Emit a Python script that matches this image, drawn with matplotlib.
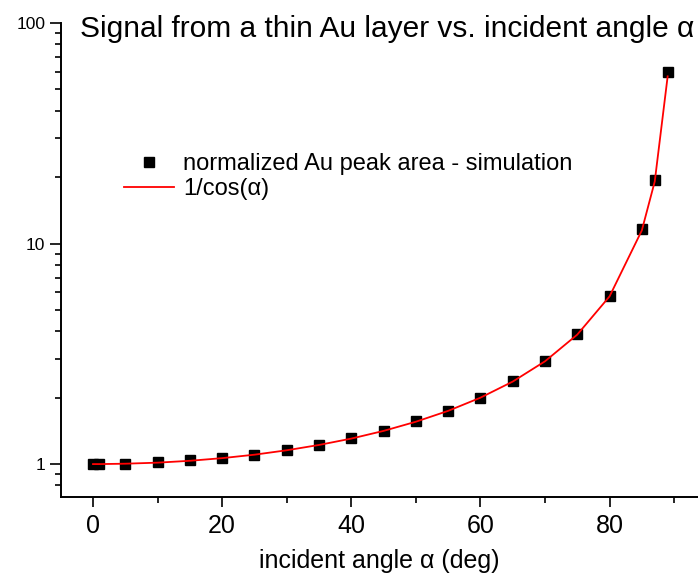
import numpy as np
import matplotlib.pyplot as plt
from matplotlib.ticker import FixedLocator, LogLocator, NullFormatter

plt.rcParams['font.family'] = ['Liberation Sans', 'DejaVu Sans']

# incident angles (deg)
angle = [0, 1, 5, 10, 15, 20, 25, 30, 35, 40, 45, 50, 55, 60, 65, 70, 75, 80, 85, 87, 89]

# normalized Au peak area from simulation
sim_area = [1.00, 1.00, 1.005, 1.02, 1.04, 1.07, 1.105, 1.16, 1.225, 1.31, 1.42,
            1.56, 1.745, 2.00, 2.37, 2.93, 3.87, 5.76, 11.6, 19.5, 60.0]

# 1/cos(alpha) reference curve
inv_cos = [1.000, 1.000, 1.004, 1.015, 1.035, 1.064, 1.103, 1.155, 1.221, 1.305, 1.414,
           1.556, 1.743, 2.000, 2.366, 2.924, 3.864, 5.759, 11.47, 19.11, 57.30]

fig = plt.figure(figsize=(6.98, 5.73), dpi=100)
ax = fig.add_axes([0.087, 0.1326, 0.913, 0.8272])

ax.plot(angle, sim_area, 's', color='black', markersize=6.5, linestyle='none',
        label='normalized Au peak area - simulation', zorder=2)
ax.plot(angle, inv_cos, '-', color='red', linewidth=1.3, label='1/cos(α)', zorder=3)

ax.set_yscale('log')
ax.set_xlim(-5, 93.7)
ax.set_ylim(0.709, 100)

ax.xaxis.set_major_locator(FixedLocator([0, 20, 40, 60, 80]))
ax.xaxis.set_minor_locator(FixedLocator([10, 30, 50, 70, 90]))
ax.yaxis.set_major_locator(FixedLocator([1, 10, 100]))
ax.yaxis.set_minor_locator(LogLocator(base=10, subs=np.arange(2, 10)))
ax.yaxis.set_minor_formatter(NullFormatter())
ax.set_yticklabels(['1', '10', '100'])

ax.tick_params(axis='x', which='major', direction='out', length=7, width=1.2,
               labelsize=18, pad=5)
ax.tick_params(axis='x', which='minor', direction='out', length=4, width=1.2)
ax.tick_params(axis='y', which='major', direction='out', length=8, width=1.2,
               labelsize=12.5, pad=3)
ax.tick_params(axis='y', which='minor', direction='out', length=4, width=1.2)

for side in ['top', 'right']:
    ax.spines[side].set_visible(False)
for side in ['left', 'bottom']:
    ax.spines[side].set_linewidth(1.4)

ax.set_xlabel('incident angle α (deg)', fontsize=18, labelpad=8)

fig.text(0.555, 0.95, 'Signal from a thin Au layer vs. incident angle α',
         fontsize=21.5, ha='center', va='center')

ax.legend(loc='upper left', bbox_to_anchor=(0.085, 0.745), frameon=False,
          fontsize=17, handlelength=2.1, handletextpad=0.4, labelspacing=0.12,
          borderaxespad=0)

fig.savefig('out.png', dpi=100)
